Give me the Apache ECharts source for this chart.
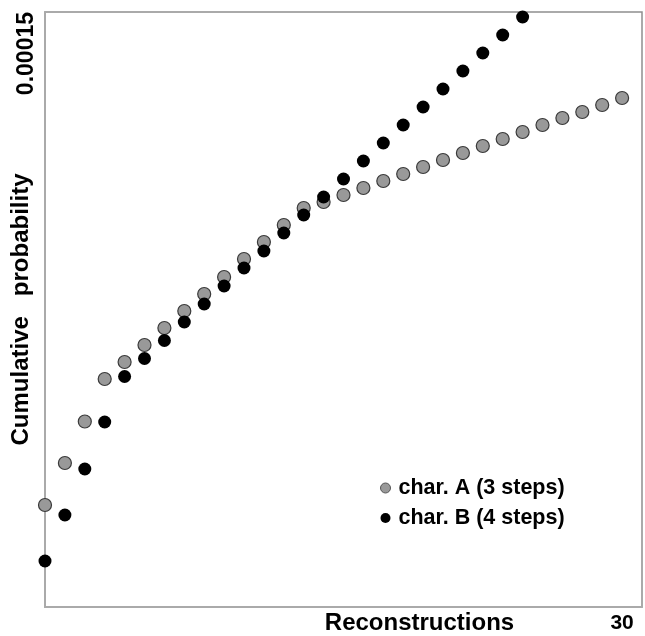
<!DOCTYPE html>
<html>
<head>
<meta charset="utf-8">
<script src="https://cdn.jsdelivr.net/npm/echarts@6/dist/echarts.min.js"></script>
<style>
html,body{margin:0;padding:0;background:#fff;}
#chart{width:645px;height:636px;}
</style>
</head>
<body>
<div id="chart"></div>
<script>
// Reconstruction index (x)
var reconstructionsA = [1,2,3,4,5,6,7,8,9,10,11,12,13,14,15,16,17,18,19,20,21,22,23,24,25,26,27,28,29,30];
var reconstructionsB = [1,2,3,4,5,6,7,8,9,10,11,12,13,14,15,16,17,18,19,20,21,22,23,24,25];
// Cumulative probability (x 1e-5)
var charA = [2.571,3.630,4.676,5.748,6.176,6.605,7.034,7.462,7.891,8.319,8.773,9.202,9.630,10.059,10.210,10.387,10.563,10.739,10.916,11.092,11.269,11.445,11.622,11.798,11.975,12.151,12.328,12.479,12.655,12.832];
var charB = [1.160,2.319,3.479,4.664,5.811,6.265,6.718,7.185,7.639,8.092,8.546,8.975,9.429,9.882,10.336,10.790,11.244,11.697,12.151,12.605,13.059,13.513,13.966,14.420,14.874];
var seriesNames = ['char. A (3 steps)', 'char. B (4 steps)'];
var yTickLabels = ['0.00015'];
var xTickLabels = ['30'];
var xName = 'Reconstructions';
var yName = 'Cumulative   probability';

function pairs(xs, ys){ return xs.map(function(x,i){ return [x, ys[i]*1e-5]; }); }

var chart = echarts.init(document.getElementById('chart'));
var fontFam = '"Liberation Sans", Arial, sans-serif';
chart.setOption({
  animation: false,
  grid: {left: 45, top: 12, right: 3, bottom: 29, outerBoundsMode: 'none', containLabel: false,
         show: true, borderColor: '#8f8f8f', borderWidth: 1.5},
  legend: {
    orient: 'vertical', left: 380, top: 477, padding: 0, itemGap: 8, itemWidth: 10, itemHeight: 10,
    icon: 'circle',
    textStyle: {fontFamily: fontFam, fontWeight: 'bold', fontSize: 21.5, color: '#000', padding: [0,0,0,3]},
    data: [{name: seriesNames[0], itemStyle: {color: '#999', borderColor: '#555', borderWidth: 1}}, {name: seriesNames[1]}]
  },
  xAxis: {
    type: 'value', min: 1, max: 31, interval: 1,
    name: xName, nameLocation: 'middle', nameGap: 4, nameMoveOverlap: false,
    nameTextStyle: {fontFamily: fontFam, fontWeight: 'bold', fontSize: 24, color: '#000', padding: [0,0,0,152]},
    axisLine: {show: true, lineStyle: {color: '#aaa', width: 2}},
    axisTick: {show: false}, splitLine: {show: false},
    axisLabel: {margin: 6, fontFamily: fontFam, fontWeight: 'bold', fontSize: 21, color: '#000',
      formatter: function(v){ return xTickLabels.indexOf(String(v)) >= 0 ? String(v) : ''; }}
  },
  yAxis: {
    type: 'value', min: 0, max: 0.00015, interval: 0.00015,
    name: yName, nameLocation: 'middle', nameGap: 12, nameRotate: 90, nameMoveOverlap: false,
    nameTextStyle: {fontFamily: fontFam, fontWeight: 'bold', fontSize: 24, color: '#000'},
    axisLine: {show: true, lineStyle: {color: '#aaa', width: 2}},
    axisTick: {show: false}, splitLine: {show: false},
    axisLabel: {rotate: 90, align: 'right', margin: 7, fontFamily: fontFam, fontWeight: 'bold', fontSize: 23, color: '#000',
      showMinLabel: false,
      formatter: function(v){ return v > 0 ? yTickLabels[0] : ''; }}
  },
  series: [
    {name: seriesNames[0], type: 'scatter', symbolSize: 13, data: pairs(reconstructionsA, charA),
     itemStyle: {color: '#999', borderColor: '#3a3a3a', borderWidth: 1.2, opacity: 1}, z: 2},
    {name: seriesNames[1], type: 'scatter', symbolSize: 13, data: pairs(reconstructionsB, charB),
     itemStyle: {color: '#000', opacity: 1}, z: 3}
  ]
});
</script>
</body>
</html>
